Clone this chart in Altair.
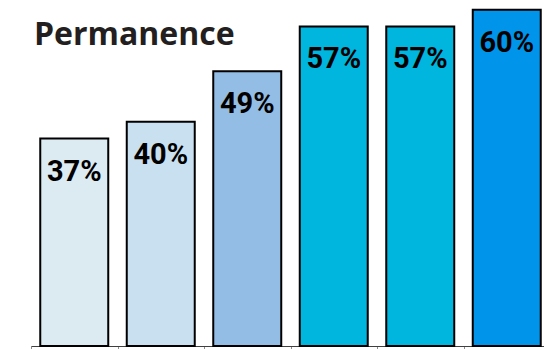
import altair as alt
import pandas as pd

categories = ["Group 1", "Group 2", "Group 3", "Group 4", "Group 5", "Group 6"]
values = [37, 40, 49, 57, 57, 60]
labels = ["37%", "40%", "49%", "57%", "57%", "60%"]
colors = ["#DCEAF2", "#C9E0F0", "#93BDE4", "#00B5DE", "#00B5DE", "#0094EA"]
title_lines = ["Children Discharged to", "Permanence"]

df = pd.DataFrame({"cat": categories, "value": values, "label": labels})
title_df = pd.DataFrame({"t": [0]})

x = alt.X(
    "cat:N",
    sort=None,
    scale=alt.Scale(paddingInner=0, paddingOuter=0),
    axis=alt.Axis(
        title=None,
        labels=False,
        tickBand="extent",
        domainColor="#404040",
        domainWidth=1,
        tickColor="#8C8C8C",
        tickSize=6,
        tickWidth=1,
        grid=False,
    ),
)
y = alt.Y("value:Q", scale=alt.Scale(domain=[0, 60.3]), axis=None)

bars = alt.Chart(df).mark_bar(
    width=alt.RelativeBandSize(0.786), stroke="#000000", strokeWidth=2
).encode(
    x=x,
    y=y,
    color=alt.Color("cat:N", sort=None, scale=alt.Scale(domain=categories, range=colors), legend=None),
)

text = alt.Chart(df).mark_text(
    baseline="alphabetic", align="center", dy=42,
    font="Roboto", fontSize=29, fontWeight="bold", color="#000000",
).encode(x=x, y=y, text="label:N")

title = alt.Chart(title_df).mark_text(
    text=title_lines,
    align="left",
    baseline="alphabetic",
    font="Open Sans",
    fontSize=32,
    fontWeight="bold",
    color="#231F20",
    lineHeight=46,
).encode(x=alt.value(3), y=alt.value(-9))

chart = (
    alt.layer(bars, text, title)
    .properties(
        width=519,
        height=338,
        autosize=alt.AutoSizeParams(type="none"),
        padding={"left": 23, "top": 0, "right": -6, "bottom": 3},
    )
    .configure_view(strokeWidth=0)
)

chart.save("out.html", embed_options={"renderer": "svg", "actions": False})
